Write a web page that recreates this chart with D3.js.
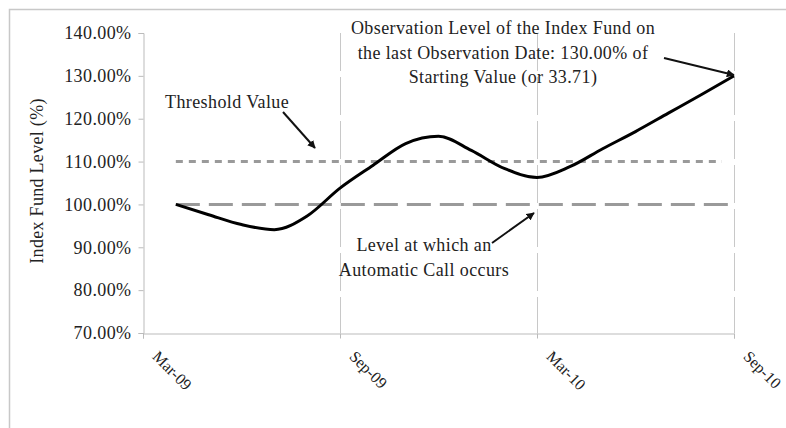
<!DOCTYPE html>
<html>
<head>
<meta charset="utf-8">
<script src="https://cdn.jsdelivr.net/npm/d3@7"></script>
<style>
  body { margin: 0; background: #fff; }
  text { font-family: "Liberation Serif", "Times New Roman", serif; fill: #222; }
</style>
</head>
<body>
<div id="chart"></div>
<script>
// months since Mar-09 and index fund level (%)
var months = [1, 2, 3, 4, 5, 6, 7, 8, 9, 10, 11, 12, 13, 14, 15, 16, 17, 18];
var levels = [100, 97.6, 95.3, 94.1, 97.3, 103.8, 109.1, 114.2, 115.9, 112.6, 108.4, 106.3, 108.8, 113.0, 117.0, 121.3, 125.6, 130.0];

var tickMonths = [0, 6, 12, 18];
var tickLabels = ['Mar-09', 'Sep-09', 'Mar-10', 'Sep-10'];
var yTicks = [70, 80, 90, 100, 110, 120, 130, 140];

var callLevel = 100;
var thresholdLevel = 110;

var width = 786, height = 428;

var svg = d3.select('#chart').append('svg')
  .attr('width', width)
  .attr('height', height);

// outer frame (only top and left visible)
svg.append('path')
  .attr('d', 'M9.5,' + height + 'V9.5H' + width)
  .attr('fill', 'none')
  .attr('stroke', '#c8c8c8')
  .attr('stroke-width', 1.5);

var x = d3.scaleLinear().domain([0, 18]).range([143, 734]);
var y = d3.scaleLinear().domain([70, 140]).range([333, 33]);

var defs = svg.append('defs');
defs.append('marker')
  .attr('id', 'arrow')
  .attr('viewBox', '0 0 10 10')
  .attr('refX', 9)
  .attr('refY', 5)
  .attr('markerWidth', 8)
  .attr('markerHeight', 8)
  .attr('markerUnits', 'userSpaceOnUse')
  .attr('orient', 'auto')
  .append('path')
  .attr('d', 'M0,0L10,5L0,10z')
  .attr('fill', '#111');

// vertical gridlines
svg.selectAll('.vgrid')
  .data(tickMonths.slice(1))
  .enter()
  .append('line')
  .attr('class', 'vgrid')
  .attr('x1', d => x(d) + 0.5)
  .attr('x2', d => x(d) + 0.5)
  .attr('y1', y(140))
  .attr('y2', y(70))
  .attr('stroke', '#c8c8c8')
  .attr('stroke-width', 1)
  .attr('stroke-dasharray', '38,6');

// y axis
var yAxis = d3.axisLeft(y)
  .tickValues(yTicks)
  .tickSize(5)
  .tickFormat(d => d.toFixed(2) + '%');

var gy = svg.append('g')
  .attr('transform', 'translate(143.5,0)')
  .call(yAxis);
gy.select('.domain').attr('stroke', '#bbb');
gy.selectAll('.tick line').attr('stroke', '#bbb');
gy.selectAll('.tick text')
  .attr('x', -12)
  .style('font-size', '18px')
  .style('letter-spacing', '0.4px')
  .style('font-family', '"Liberation Serif", serif')
  .attr('fill', '#222');

// x axis
var xAxis = d3.axisBottom(x)
  .tickValues(tickMonths)
  .tickSize(5)
  .tickFormat((d, i) => tickLabels[i]);

var gx = svg.append('g')
  .attr('transform', 'translate(0,333.5)')
  .call(xAxis);
gx.select('.domain').attr('stroke', '#bbb');
gx.selectAll('.tick line').attr('stroke', '#bbb');
gx.selectAll('.tick text')
  .attr('y', 0)
  .attr('dy', 0)
  .attr('text-anchor', 'start')
  .attr('transform', 'translate(8,24) rotate(45)')
  .style('font-size', '16px')
  .style('font-family', '"Liberation Serif", serif')
  .attr('fill', '#222');

// y axis title
svg.append('text')
  .attr('transform', 'translate(43,181) rotate(-90)')
  .attr('text-anchor', 'middle')
  .style('font-size', '18px')
  .style('letter-spacing', '0.3px')
  .text('Index Fund Level (%)');

// reference lines
svg.append('line')
  .attr('x1', x(1)).attr('x2', 722)
  .attr('y1', y(thresholdLevel)).attr('y2', y(thresholdLevel))
  .attr('stroke', '#9a9a9a')
  .attr('stroke-width', 3)
  .attr('stroke-dasharray', '7,6');

svg.append('line')
  .attr('x1', x(1)).attr('x2', 732)
  .attr('y1', y(callLevel)).attr('y2', y(callLevel))
  .attr('stroke', '#9a9a9a')
  .attr('stroke-width', 3)
  .attr('stroke-dasharray', '24,9');

// index fund line
var line = d3.line()
  .x((d, i) => x(months[i]))
  .y(d => y(d))
  .curve(d3.curveMonotoneX);

svg.append('path')
  .datum(levels)
  .attr('d', line)
  .attr('fill', 'none')
  .attr('stroke', '#000')
  .attr('stroke-width', 3);

// annotations
function note(lines, cx, y0, anchor) {
  var t = svg.append('text')
    .attr('text-anchor', anchor)
    .style('font-size', '18px')
    .style('letter-spacing', '0.4px');
  lines.forEach((s, i) => {
    t.append('tspan').attr('x', cx).attr('y', y0 + i * 24.5).text(s);
  });
}

function arrow(x1, y1, x2, y2) {
  svg.append('line')
    .attr('x1', x1).attr('y1', y1)
    .attr('x2', x2).attr('y2', y2)
    .attr('stroke', '#111')
    .attr('stroke-width', 2)
    .attr('marker-end', 'url(#arrow)');
}

note(['Threshold Value'], 165, 108, 'start');
arrow(283, 112, 315, 148);

note(['Observation Level of the Index Fund on',
  'the last Observation Date: 130.00% of',
  'Starting Value (or 33.71)'], 503, 34, 'middle');
arrow(664, 58, 734, 75);

note(['Level at which an', 'Automatic Call occurs'], 424, 251, 'middle');
arrow(492, 243, 534, 213);
</script>
</body>
</html>
